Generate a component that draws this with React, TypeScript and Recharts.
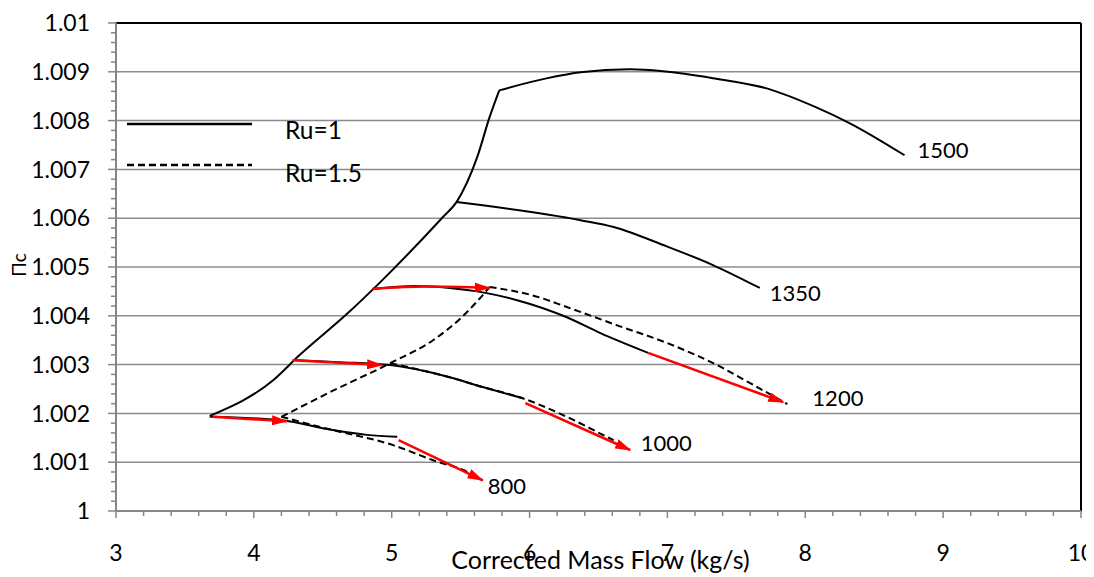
import React from 'react';
import { LineChart, Line, XAxis, YAxis, CartesianGrid, ReferenceLine, Legend } from 'recharts';

const FONT = 'Lato, "Open Sans", Arial, sans-serif';
const AXIS_GREY = '#868686';
const GRID_GREY = '#8c8c8c';
const RED = '#ff0000';

// Axis ticks
const xMajor = [3, 4, 5, 6, 7, 8, 9, 10];
const xLabels = ['3', '4', '5', '6', '7', '8', '9', '10'];
const yMajor = [1, 1.001, 1.002, 1.003, 1.004, 1.005, 1.006, 1.007, 1.008, 1.009, 1.01];
const yLabels = ['1', '1.001', '1.002', '1.003', '1.004', '1.005', '1.006', '1.007', '1.008', '1.009', '1.01'];
const MINOR_DIVISIONS = 5;

// Ru = 1 (solid): surge boundary and speed lines
const surgeRu1X = [3.68, 4.14, 4.33, 4.68, 4.91, 5.37, 5.47, 5.62, 5.71, 5.78];
const surgeRu1Y = [1.00195, 1.00268, 1.00319, 1.00405, 1.00467, 1.00602, 1.00633, 1.00725, 1.00807, 1.00862];
const n1500X = [5.78, 6.13, 6.37, 6.73, 6.97, 7.33, 7.72, 8.08, 8.32, 8.72];
const n1500Y = [1.00862, 1.00887, 1.00899, 1.00905, 1.00901, 1.00887, 1.00866, 1.00827, 1.00795, 1.00729];
const n1350X = [5.47, 6.37, 6.61, 6.97, 7.33, 7.67];
const n1350Y = [1.00633, 1.00596, 1.00582, 1.00545, 1.00504, 1.00457];
const n1200Ru1X = [4.86, 5.17, 5.42, 5.66, 5.91, 6.27, 6.51, 6.86];
const n1200Ru1Y = [1.00455, 1.00461, 1.00457, 1.00448, 1.00432, 1.00397, 1.00365, 1.00324];
const n1000Ru1X = [4.31, 4.62, 4.99, 5.42, 5.66, 5.95];
const n1000Ru1Y = [1.00309, 1.00305, 1.00299, 1.00274, 1.00254, 1.00231];
const n800Ru1X = [3.68, 4.2, 4.57, 4.82, 5.04];
const n800Ru1Y = [1.00193, 1.00186, 1.00166, 1.00156, 1.00152];

// Ru = 1.5 (dashed): surge boundary and speed lines
const surgeRu15X = [4.2, 4.57, 4.99, 5.3, 5.5, 5.64, 5.71];
const surgeRu15Y = [1.00193, 1.00246, 1.00303, 1.0035, 1.00395, 1.00436, 1.00459];
const n1200Ru15X = [5.71, 6.02, 6.27, 6.63, 7.0, 7.36, 7.6, 7.87];
const n1200Ru15Y = [1.00459, 1.00442, 1.00418, 1.00381, 1.00344, 1.00299, 1.00262, 1.00219];
const n1000Ru15X = [4.99, 5.42, 5.66, 5.95, 6.27, 6.56, 6.61];
const n1000Ru15Y = [1.00303, 1.00274, 1.00254, 1.00231, 1.00193, 1.00152, 1.00145];
const n800Ru15X = [4.2, 4.57, 5.01, 5.3, 5.55, 5.66];
const n800Ru15Y = [1.00193, 1.00166, 1.00135, 1.00104, 1.0008, 1.00063];

// Operating-point shift arrows
const arrow1X = [3.7, 4.24];
const arrow1Y = [1.00193, 1.00184];
const arrow2X = [4.28, 4.93];
const arrow2Y = [1.00309, 1.00299];
const arrow3X = [4.86, 5.25, 5.71];
const arrow3Y = [1.00455, 1.0046, 1.00457];
const arrow4X = [5.05, 5.66];
const arrow4Y = [1.00145, 1.00063];
const arrow5X = [5.97, 6.73];
const arrow5Y = [1.00221, 1.00125];
const arrow6X = [6.86, 7.84];
const arrow6Y = [1.00324, 1.00223];

const legendItems = [
  { label: 'Ru=1', dash: undefined as string | undefined },
  { label: 'Ru=1.5', dash: '7 4' },
];

type Pt = { x: number; y: number };
const zip = (xs: number[], ys: number[]): Pt[] => xs.map((x, i) => ({ x, y: ys[i] }));

const subdivide = (major: number[], parts: number): number[] => {
  const out: number[] = [];
  for (let i = 0; i < major.length - 1; i++) {
    const step = (major[i + 1] - major[i]) / parts;
    for (let k = 0; k < parts; k++) out.push(major[i] + k * step);
  }
  out.push(major[major.length - 1]);
  return out;
};

const xTicks = subdivide(xMajor, MINOR_DIVISIONS);
const yTicks = subdivide(yMajor, MINOR_DIVISIONS);
const majorIndex = (list: number[], v: number) => list.findIndex((m) => Math.abs(m - v) < 1e-9);

const XTick = (props: any) => {
  const { x, y, payload } = props;
  const idx = majorIndex(xMajor, payload.value);
  const major = idx >= 0;
  return (
    <g>
      <line x1={x} x2={x} y1={y} y2={y + (major ? 7 : 5)} stroke={AXIS_GREY} strokeWidth={1.5} />
      {major && (
        <text x={x} y={y + 50} textAnchor="middle" fontFamily={FONT} fontSize={23} fill="#000">
          {xLabels[idx]}
        </text>
      )}
    </g>
  );
};

const YTick = (props: any) => {
  const { x, y, payload } = props;
  const idx = majorIndex(yMajor, payload.value);
  const major = idx >= 0;
  return (
    <g>
      <line x1={x - (major ? 8 : 5)} x2={x} y1={y} y2={y} stroke={AXIS_GREY} strokeWidth={1.5} />
      {major && (
        <text x={x - 26} y={y} dy="0.36em" textAnchor="end" fontFamily={FONT} fontSize={23} fill="#000">
          {yLabels[idx]}
        </text>
      )}
    </g>
  );
};

const XTitle = (props: any) => {
  const vb = props.viewBox || {};
  return (
    <text x={vb.x + vb.width / 2 + 2} y={vb.y + 58} textAnchor="middle" fontFamily={FONT} fontSize={25} fill="#000">
      Corrected Mass Flow (kg/s)
    </text>
  );
};

const YTitle = (props: any) => {
  const vb = props.viewBox || {};
  const cx = vb.x + 11;
  const cy = vb.y + vb.height / 2 - 2;
  return (
    <text
      x={cx}
      y={cy}
      dy="0.36em"
      transform={`rotate(-90 ${cx} ${cy})`}
      textAnchor="middle"
      fontFamily={FONT}
      fontSize={19}
      fill="#000"
    >
      Πc
    </text>
  );
};

// Speed label drawn next to the last point of a curve
const endLabel = (text: string, count: number, dx: number, dy: number) => (props: any) => {
  const { cx, cy, index } = props;
  if (index !== count - 1) return <g key={`d-${index}`} />;
  return (
    <text
      key={`d-${index}`}
      x={cx + dx}
      y={cy + dy}
      dy="0.36em"
      fontFamily={FONT}
      fontSize={22}
      fill="#000"
    >
      {text}
    </text>
  );
};

const renderLegend = () => (
  <svg width={270} height={80} style={{ display: 'block', overflow: 'visible' }}>
    {legendItems.map((item, i) => (
      <g key={item.label}>
        <line
          x1={0}
          x2={125}
          y1={8 + 41 * i}
          y2={8 + 41 * i}
          stroke="#000"
          strokeWidth={2.5}
          strokeDasharray={item.dash}
        />
        <text x={158} y={14.5 + 42.5 * i} dy="0.36em" fontFamily={FONT} fontSize={24.5} fill="#000">
          {item.label}
        </text>
      </g>
    ))}
  </svg>
);

const solid = { stroke: '#000', strokeWidth: 2, dot: false, activeDot: false, isAnimationActive: false };
const dashed = { ...solid, strokeDasharray: '7 4' };
const arrow = {
  stroke: RED,
  strokeWidth: 2.5,
  dot: false,
  activeDot: false,
  isAnimationActive: false,
  markerEnd: 'url(#redHead)',
};

export default function App() {
  return (
    <LineChart width={1086} height={569} margin={{ top: 15, right: 13, bottom: 0, left: 0 }}>
      <defs>
        <marker
          id="redHead"
          markerWidth={16}
          markerHeight={10}
          refX={15}
          refY={5}
          orient="auto"
          markerUnits="userSpaceOnUse"
        >
          <path d="M0,0 L16,5 L0,10 Z" fill={RED} />
        </marker>
      </defs>
      <CartesianGrid
        horizontal
        vertical={false}
        horizontalValues={yMajor.slice(1, -1)}
        stroke={GRID_GREY}
        strokeWidth={1.5}
      />
      <XAxis
        type="number"
        dataKey="x"
        domain={[3, 10]}
        ticks={xTicks}
        interval={0}
        allowDataOverflow
        tickSize={0}
        tickMargin={0}
        tickLine={false}
        tick={XTick}
        height={66}
        axisLine={{ stroke: AXIS_GREY, strokeWidth: 2 }}
        label={{ content: XTitle }}
      />
      <YAxis
        type="number"
        dataKey="y"
        domain={[1, 1.01]}
        ticks={yTicks}
        interval={0}
        allowDataOverflow
        tickSize={0}
        tickMargin={0}
        tickLine={false}
        tick={YTick}
        width={108}
        axisLine={{ stroke: AXIS_GREY, strokeWidth: 2 }}
        label={{ content: YTitle }}
      />
      <ReferenceLine y={1.01} stroke="#000" strokeWidth={2} />
      <ReferenceLine x={10} stroke="#000" strokeWidth={2} />

      <Line {...solid} type="monotone" data={zip(surgeRu1X, surgeRu1Y)} dataKey="y" />
      <Line {...solid} type="monotone" data={zip(n1500X, n1500Y)} dataKey="y" dot={endLabel('1500', n1500X.length, 13, -5)} />
      <Line {...solid} type="monotone" data={zip(n1350X, n1350Y)} dataKey="y" dot={endLabel('1350', n1350X.length, 10, 5)} />
      <Line {...solid} type="monotone" data={zip(n1200Ru1X, n1200Ru1Y)} dataKey="y" />
      <Line {...solid} type="monotone" data={zip(n1000Ru1X, n1000Ru1Y)} dataKey="y" />
      <Line {...solid} type="monotone" data={zip(n800Ru1X, n800Ru1Y)} dataKey="y" />

      <Line {...dashed} type="monotone" data={zip(surgeRu15X, surgeRu15Y)} dataKey="y" />
      <Line {...dashed} type="monotone" data={zip(n1200Ru15X, n1200Ru15Y)} dataKey="y" dot={endLabel('1200', n1200Ru15X.length, 25, -6)} />
      <Line {...dashed} type="monotone" data={zip(n1000Ru15X, n1000Ru15Y)} dataKey="y" dot={endLabel('1000', n1000Ru15X.length, 27, 3)} />
      <Line {...dashed} type="monotone" data={zip(n800Ru15X, n800Ru15Y)} dataKey="y" dot={endLabel('800', n800Ru15X.length, 5, 6)} />

      <Line {...arrow} type="linear" data={zip(arrow1X, arrow1Y)} dataKey="y" />
      <Line {...arrow} type="linear" data={zip(arrow2X, arrow2Y)} dataKey="y" />
      <Line {...arrow} type="monotone" data={zip(arrow3X, arrow3Y)} dataKey="y" />
      <Line {...arrow} type="linear" data={zip(arrow4X, arrow4Y)} dataKey="y" />
      <Line {...arrow} type="linear" data={zip(arrow5X, arrow5Y)} dataKey="y" />
      <Line {...arrow} type="linear" data={zip(arrow6X, arrow6Y)} dataKey="y" />

      <Legend
        layout="horizontal"
        verticalAlign="middle"
        align="center"
        content={renderLegend}
        wrapperStyle={{ left: 119, top: 108, width: 270, height: 80 }}
      />
    </LineChart>
  );
}
